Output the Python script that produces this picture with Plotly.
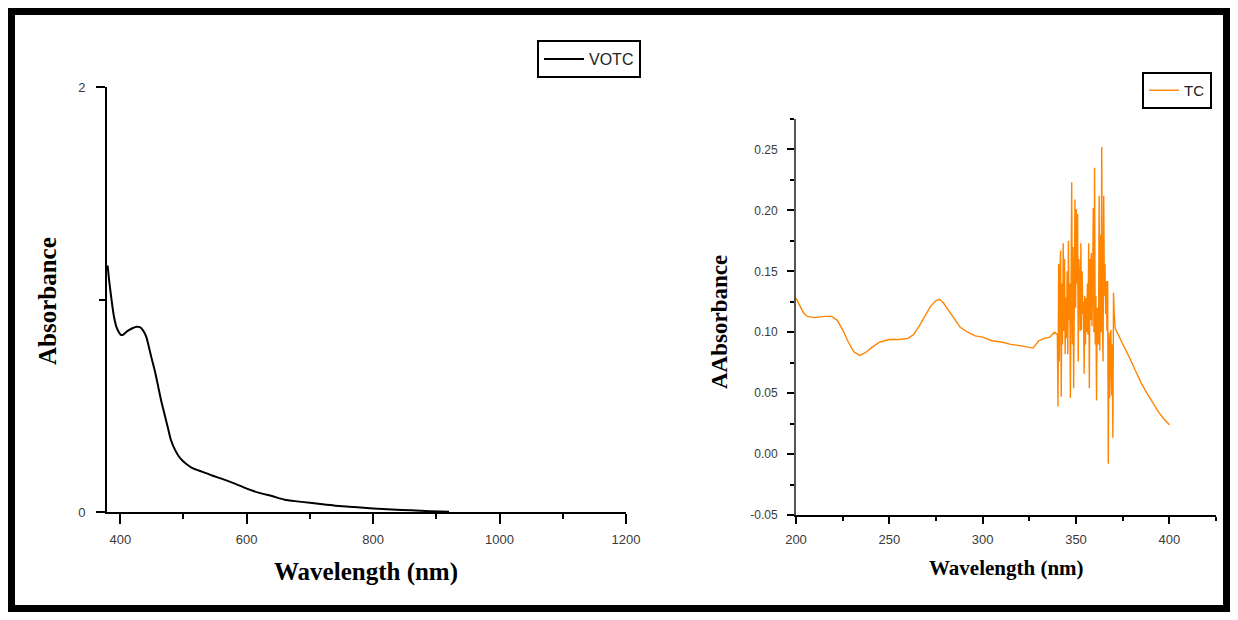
import plotly.graph_objects as go

# page body has an 8px margin, so the figure is sized to fit the 1238x620 window
PAGE_W, PAGE_H = 1238, 620
OFF = 8
W, H = PAGE_W - 2 * OFF, PAGE_H - 2 * OFF

# ---------------- data ----------------
votc_wavelength = [380, 382, 384, 387, 390, 394, 398, 401, 405, 410, 415, 420, 426, 431, 436,
                   441, 445, 449, 455, 460, 465, 470, 475, 480, 487, 493, 499, 505, 515, 529,
                   545, 560, 580, 600, 620, 640, 660, 680, 700, 720, 740, 770, 800, 830, 860,
                   890, 920]
votc_absorbance = [1.16, 1.10, 1.05, 0.98, 0.92, 0.87, 0.845, 0.833, 0.835, 0.848, 0.858, 0.866,
                   0.872, 0.870, 0.855, 0.825, 0.78, 0.73, 0.66, 0.59, 0.52, 0.46, 0.40, 0.34,
                   0.29, 0.26, 0.24, 0.225, 0.205, 0.19, 0.172, 0.157, 0.135, 0.11, 0.09, 0.075,
                   0.058, 0.05, 0.043, 0.036, 0.03, 0.024, 0.017, 0.012, 0.008, 0.004, 0.001]

tc_wavelength_pre = [200, 202, 204, 206, 210, 215, 219, 222, 225, 228, 231, 234, 237, 241, 245,
                     250, 255, 260, 263, 266, 269, 272, 275, 277, 279, 282, 285, 288, 292, 296,
                     300, 305, 310, 315, 320, 324, 327, 330, 333, 336, 338.5]
tc_absorbance_pre = [0.128, 0.122, 0.116, 0.113, 0.112, 0.113, 0.113, 0.110, 0.102, 0.092, 0.084,
                     0.081, 0.083, 0.088, 0.092, 0.094, 0.094, 0.095, 0.098, 0.105, 0.113, 0.121,
                     0.126, 0.127, 0.124, 0.117, 0.110, 0.104, 0.100, 0.097, 0.096, 0.093, 0.092,
                     0.090, 0.089, 0.088, 0.087, 0.093, 0.095, 0.096, 0.100]

tc_wavelength_noise = [340.00, 340.35, 340.70, 341.05, 341.40, 341.75, 342.10, 342.45, 342.80,
                       343.15, 343.50, 343.85, 344.20, 344.55, 344.90, 345.25, 345.60, 345.95,
                       346.30, 346.65, 347.00, 347.35, 347.70, 348.05, 348.40, 348.75, 349.10,
                       349.45, 349.80, 350.15, 350.50, 350.85, 351.20, 351.55, 351.90, 352.25,
                       352.60, 352.95, 353.30, 353.65, 354.00, 354.35, 354.70, 355.05, 355.40,
                       355.75, 356.10, 356.45, 356.80, 357.15, 357.50, 357.85, 358.20, 358.55,
                       358.90, 359.25, 359.60, 359.95, 360.30, 360.65, 361.00, 361.35, 361.70,
                       362.05, 362.40, 362.75, 363.10, 363.45, 363.80, 364.15, 364.50, 364.85,
                       365.20, 365.55, 365.90, 366.25, 366.60, 366.95, 367.30, 367.65, 368.00,
                       368.35, 368.70, 369.05, 369.40, 369.75, 370.10, 370.45]
tc_absorbance_noise = [0.098, 0.039, 0.156, 0.076, 0.150,
                       0.167, 0.047, 0.140, 0.090,
                       0.173, 0.101, 0.160, 0.082,
                       0.128, 0.095, 0.150, 0.082,
                       0.175, 0.110, 0.140, 0.046, 0.130,
                       0.223, 0.090, 0.170, 0.054, 0.150,
                       0.209, 0.120, 0.201, 0.140, 0.197, 0.076, 0.160,
                       0.142, 0.101, 0.173, 0.102, 0.150, 0.115,
                       0.125, 0.066, 0.130, 0.090, 0.128, 0.100, 0.140, 0.098,
                       0.173, 0.054, 0.160, 0.110, 0.165, 0.105, 0.140,
                       0.202, 0.100, 0.235, 0.090, 0.130, 0.044, 0.120,
                       0.110, 0.090, 0.212, 0.085, 0.180, 0.100, 0.252,
                       0.110, 0.076, 0.212, 0.130, 0.156, 0.115, 0.142,
                       0.101, 0.142, -0.008, 0.100, 0.046, 0.090,
                       0.102, 0.048, 0.090, 0.0135, 0.1325, 0.116]

tc_wavelength_post = [371, 373, 376, 379, 382, 385, 388, 391, 394, 397, 400]
tc_absorbance_post = [0.103, 0.097, 0.088, 0.078, 0.068, 0.058, 0.050, 0.042, 0.035, 0.029, 0.024]

tc_wavelength = tc_wavelength_pre + tc_wavelength_noise + tc_wavelength_post
tc_absorbance = tc_absorbance_pre + tc_absorbance_noise + tc_absorbance_post

left_xticks = [400, 600, 800, 1000, 1200]
left_yticks = [0, 2]
right_xticks = [200, 250, 300, 350, 400]
right_yticks = [-0.05, 0.00, 0.05, 0.10, 0.15, 0.20, 0.25]
right_ytick_text = ["-0.05", "0.00", "0.05", "0.10", "0.15", "0.20", "0.25"]


def fx(px):
    return (px - OFF) / W


def fy(py):
    return 1 - (py - OFF) / H


fig = go.Figure()
fig.add_trace(go.Scatter(x=votc_wavelength, y=votc_absorbance, mode="lines", name="VOTC",
                         line=dict(color="black", width=2, shape="spline", smoothing=0.6),
                         xaxis="x", yaxis="y", legend="legend"))
fig.add_trace(go.Scatter(x=tc_wavelength, y=tc_absorbance, mode="lines", name="TC",
                         line=dict(color="#ff8400", width=1.4),
                         xaxis="x2", yaxis="y2", legend="legend2"))

tickfont_l = dict(family="Arial, Liberation Sans, sans-serif", size=13, color="#3a3a3a")
tickfont_r = dict(family="Arial, Liberation Sans, sans-serif", size=12, color="#3a3a3a")

fig.update_layout(
    template="none",
    width=W, height=H,
    margin=dict(l=0, r=0, t=0, b=0, pad=0, autoexpand=False),
    paper_bgcolor="white", plot_bgcolor="white",
    xaxis=dict(domain=[fx(107), fx(626)], range=[379, 1200], anchor="y", automargin=False,
               tickvals=left_xticks, ticks="outside", ticklen=10, tickwidth=1.5, tickcolor="black",
               minor=dict(dtick=100, tick0=0, ticks="outside", ticklen=5, tickwidth=1.5, tickcolor="black"),
               showline=True, linecolor="black", linewidth=2, showgrid=False, zeroline=False,
               tickfont=tickfont_l, ticklabelstandoff=4),
    yaxis=dict(domain=[fy(512), fy(87)], range=[0, 2], anchor="x", automargin=False,
               tickvals=left_yticks, ticks="outside", ticklen=9, tickwidth=1.5, tickcolor="black",
               minor=dict(dtick=1, tick0=0, ticks="outside", ticklen=6, tickwidth=1.5, tickcolor="black"),
               showline=True, linecolor="black", linewidth=2, showgrid=False, zeroline=False,
               tickfont=tickfont_l, ticklabelstandoff=8),
    xaxis2=dict(domain=[fx(796), fx(1216)], range=[200, 425], anchor="y2", automargin=False,
                tickvals=right_xticks, ticks="outside", ticklen=7, tickwidth=1.5, tickcolor="black",
                minor=dict(dtick=25, tick0=0, ticks="outside", ticklen=4, tickwidth=1.5, tickcolor="black"),
                showline=True, linecolor="black", linewidth=2, showgrid=False, zeroline=False,
                tickfont=dict(family="Arial, Liberation Sans, sans-serif", size=13, color="#3a3a3a"),
                ticklabelstandoff=4),
    yaxis2=dict(domain=[fy(515), fy(119)], range=[-0.05, 0.275], anchor="x2", automargin=False,
                tickvals=right_yticks, ticktext=right_ytick_text,
                ticks="outside", ticklen=7, tickwidth=1.5, tickcolor="black",
                minor=dict(dtick=0.025, tick0=0, ticks="outside", ticklen=4, tickwidth=1.5, tickcolor="black"),
                showline=True, linecolor="#555555", linewidth=2, showgrid=False, zeroline=False,
                tickfont=tickfont_r, ticklabelstandoff=7),
    legend=dict(x=fx(537), y=fy(40), xanchor="left", yanchor="top",
                bordercolor="black", borderwidth=2, bgcolor="white",
                font=dict(family="Arial, Liberation Sans, sans-serif", size=16, color="#222"),
                itemwidth=40, tracegroupgap=0),
    legend2=dict(x=fx(1142), y=fy(72), xanchor="left", yanchor="top",
                 bordercolor="black", borderwidth=2, bgcolor="white",
                 font=dict(family="Arial, Liberation Sans, sans-serif", size=15, color="#222"),
                 itemwidth=30, tracegroupgap=0),
    showlegend=True,
)

serif_b = dict(family="Liberation Serif, Times New Roman, serif", weight="bold", color="black")
fig.add_annotation(text="Absorbance", xref="paper", yref="paper", x=fx(47), y=fy(301),
                   xanchor="center", yanchor="middle", textangle=-90, showarrow=False,
                   font=dict(size=25, **serif_b))
fig.add_annotation(text="Wavelength (nm)", xref="paper", yref="paper", x=fx(366), y=fy(572),
                   xanchor="center", yanchor="middle", showarrow=False,
                   font=dict(size=25, **serif_b))
fig.add_annotation(text="AAbsorbance", xref="paper", yref="paper", x=fx(719), y=fy(322),
                   xanchor="center", yanchor="middle", textangle=-90, showarrow=False,
                   font=dict(size=23, **serif_b))
fig.add_annotation(text="Wavelength (nm)", xref="paper", yref="paper", x=fx(1006), y=fy(568),
                   xanchor="center", yanchor="middle", showarrow=False,
                   font=dict(size=21, **serif_b))

# outer frame
fig.add_shape(type="rect", xref="paper", yref="paper",
              x0=fx(11.5), x1=fx(1226.5), y0=fy(608.5), y1=fy(11.5),
              line=dict(color="black", width=7), fillcolor="rgba(0,0,0,0)", layer="above")

fig.write_html("out.html")
